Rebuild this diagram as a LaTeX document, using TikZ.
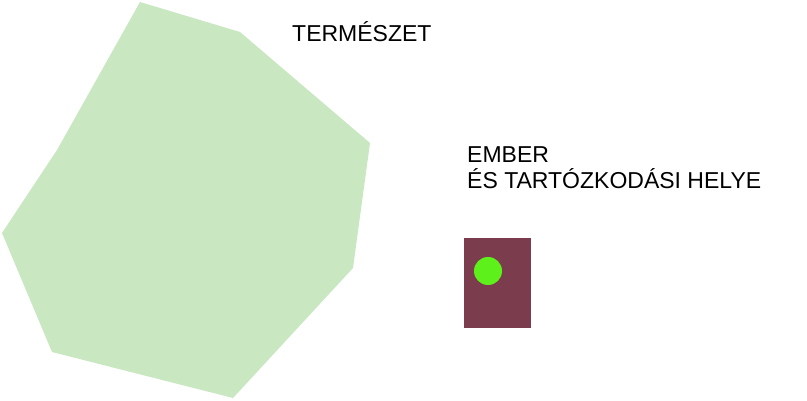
\documentclass[tikz,border=0pt]{standalone}
\usepackage{fontspec}
\setmainfont{Liberation Sans}
\usepackage{tikz}
\usetikzlibrary{positioning}
\definecolor{natgreen}{RGB}{201,231,193}
\definecolor{homered}{RGB}{123,61,78}
\definecolor{mangreen}{RGB}{94,240,26}
\tikzstyle{caption} = [inner sep=0pt,anchor=base west,font=\fontsize{23}{27}\selectfont]

\begin{document}
\begin{tikzpicture}[x=1pt,y=-1pt]
	\useasboundingbox (0,0) rectangle (807,401);
	\fill[natgreen] (140,2) -- (240,32) -- (370,143) -- (353,268) -- (233,398) -- (52,352) -- (2,233) -- (57,150) -- cycle;
	\node[caption] (nature) at (292,42) {TERMÉSZET};
	\node[caption] (man) at (467,163) {EMBER};
	\node[caption] (place) at ([yshift=-26pt]man.base west) {ÉS TARTÓZKODÁSI HELYE};
	\fill[homered] (464,238) rectangle (531,328);
	\fill[mangreen] (488,271) circle (14);
\end{tikzpicture}
\end{document}
